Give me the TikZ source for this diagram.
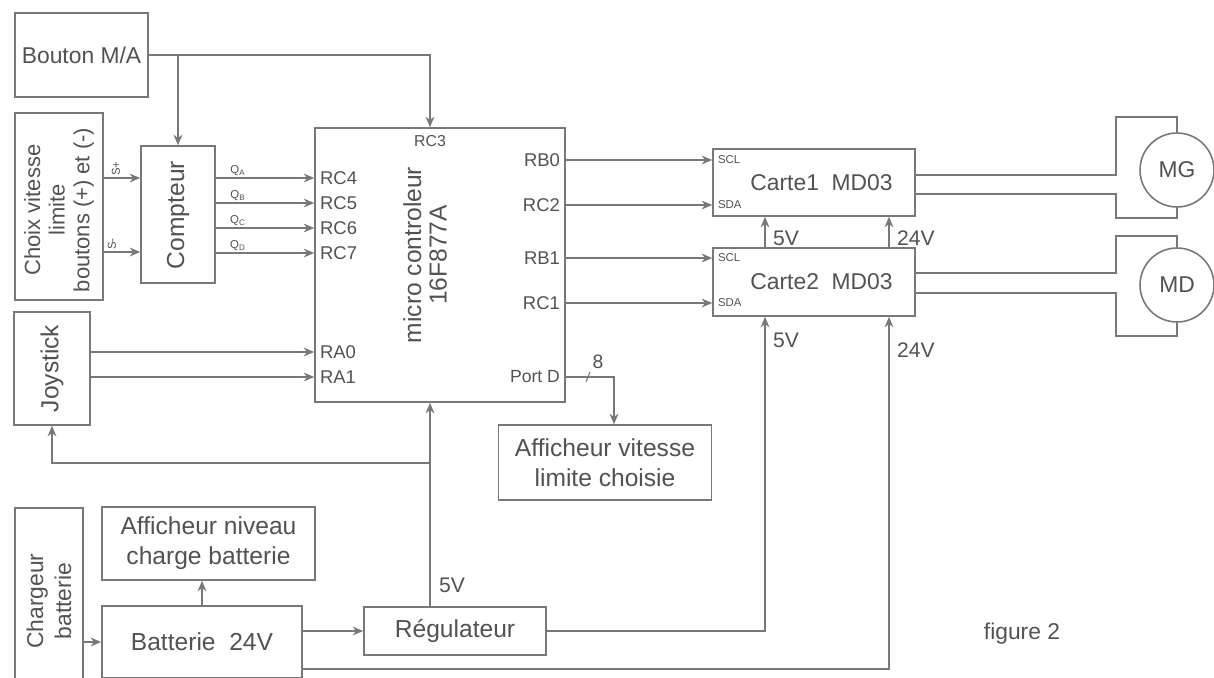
\documentclass[tikz,border=0pt]{standalone}
\usepackage{fontspec}
\setmainfont{Liberation Sans}
\usetikzlibrary{arrows.meta}

\definecolor{LineColor}{rgb}{0.47,0.47,0.47}
\definecolor{TextColor}{rgb}{0.32,0.32,0.32}
\tikzstyle{base}=[rectangle,
                  draw=LineColor,
                  line width=0.9pt,
                  text=TextColor,
                  align=center,
                  inner sep=0pt]
\tikzstyle{bigtext}=[font=\fontsize{14}{17}\selectfont]
\tikzstyle{midtext}=[font=\fontsize{13}{15}\selectfont]
\tikzstyle{turned}=[rotate=90, text=TextColor, align=center, inner sep=0pt]
\tikzstyle{pin}=[text=TextColor, inner sep=1pt, font=\fontsize{10.5}{12}\selectfont]
\tikzstyle{tinypin}=[text=TextColor, inner sep=1pt, font=\fontsize{6.5}{7}\selectfont]
\tikzstyle{volt}=[text=TextColor, inner sep=1pt, font=\fontsize{12}{14}\selectfont]
\tikzstyle{wire}=[draw=LineColor, line width=0.9pt]
\tikzstyle{arr}=[wire, -{Stealth[length=6pt,width=5pt]}]
\tikzstyle{motor}=[circle, draw=LineColor, line width=0.9pt, text=TextColor,
                   minimum size=1.48cm, inner sep=0pt, font=\fontsize{13}{15}\selectfont]

\begin{document}
\begin{tikzpicture}[x=0.02cm, y=-0.02cm]
    \useasboundingbox[fill=white] (0,0) rectangle (1214,677);

    % blocs
    \node at (81.5,  55.0) (bouton)    [base, midtext, minimum width=2.66cm, minimum height=1.68cm] {Bouton M/A};
    \node at (59.0, 206.5) (choix)     [base, minimum width=1.76cm, minimum height=3.74cm] {};
    \node at (178.0,214.5) (compteur)  [base, minimum width=1.48cm, minimum height=2.74cm] {};
    \node at (440.0,265.0) (micro)     [base, minimum width=5.00cm, minimum height=5.48cm] {};
    \node at (52.0, 368.5) (joystick)  [base, minimum width=1.52cm, minimum height=2.26cm] {};
    \node at (605.0,462.5) (affvit)    [base, bigtext, minimum width=4.26cm, minimum height=1.50cm] {Afficheur vitesse\\limite choisie};
    \node at (814.0,182.5) (carte1)    [base, midtext, minimum width=4.04cm, minimum height=1.34cm] {\hspace{0.3cm}Carte1~~MD03};
    \node at (814.0,282.0) (carte2)    [base, midtext, minimum width=4.04cm, minimum height=1.36cm] {\hspace{0.3cm}Carte2~~MD03};
    \node at (1177.0,170.0) (mg)       [motor] {MG};
    \node at (1177.0,285.0) (md)       [motor] {MD};
    \node at (49.0, 601.0) (chargeur)  [base, minimum width=1.36cm, minimum height=3.72cm] {};
    \node at (208.5,543.5) (affniv)    [base, bigtext, minimum width=4.26cm, minimum height=1.46cm] {Afficheur niveau\\charge batterie};
    \node at (202.0,642.0) (batterie)  [base, bigtext, minimum width=4.00cm, minimum height=1.44cm] {Batterie~~24V};
    \node at (455.0,631.0) (regul)     [base, bigtext, minimum width=3.64cm, minimum height=0.96cm] {R\'egulateur};
    \node at (1022.0,634.0) (figure)   [text=TextColor, midtext] {figure 2};

    % textes tournes
    \node at (59.0, 210.0) [turned, font=\fontsize{12.5}{14}\selectfont] {Choix vitesse\\limite\\boutons (+) et (-)};
    \node at (178.0,215.0) [turned, bigtext] {Compteur};
    \node at (425.0,255.0) [turned, font=\fontsize{14}{14.5}\selectfont] {micro controleur\\16F877A};
    \node at (52.0, 368.5) [turned, bigtext] {Joystick};
    \node at (49.0, 601.0) [turned, font=\fontsize{13}{16}\selectfont] {Chargeur\\batterie};

    % broches du micro
    \node at (430,141) (rc3) [pin, font=\fontsize{9}{10}\selectfont] {RC3};
    \node at (318,178) (rc4) [pin, anchor=west] {RC4};
    \node at (318,203) (rc5) [pin, anchor=west] {RC5};
    \node at (318,228) (rc6) [pin, anchor=west] {RC6};
    \node at (318,253) (rc7) [pin, anchor=west] {RC7};
    \node at (318,352) (ra0) [pin, anchor=west] {RA0};
    \node at (318,377) (ra1) [pin, anchor=west] {RA1};
    \node at (562,160) (rb0) [pin, anchor=east] {RB0};
    \node at (562,205) (rc2) [pin, anchor=east] {RC2};
    \node at (562,258) (rb1) [pin, anchor=east] {RB1};
    \node at (562,303) (rc1) [pin, anchor=east] {RC1};
    \node at (562,377) (portd) [pin, anchor=east, font=\fontsize{10}{12}\selectfont] {Port D};

    % broches des cartes
    \node at (716,160) (scl1) [tinypin, anchor=west] {SCL};
    \node at (716,205) (sda1) [tinypin, anchor=west] {SDA};
    \node at (716,258) (scl2) [tinypin, anchor=west] {SCL};
    \node at (716,303) (sda2) [tinypin, anchor=west] {SDA};

    % signaux
    \node at (122,178) (splus)  [tinypin, anchor=south west, rotate=90] {S+};
    \node at (118,252) (smoins) [tinypin, anchor=south west, rotate=90] {S-};
    \node at (238,178) (qa) [tinypin, anchor=south] {Q\textsubscript{A}};
    \node at (238,203) (qb) [tinypin, anchor=south] {Q\textsubscript{B}};
    \node at (238,228) (qc) [tinypin, anchor=south] {Q\textsubscript{C}};
    \node at (238,253) (qd) [tinypin, anchor=south] {Q\textsubscript{D}};
    \node at (598,362) (bus) [volt, font=\fontsize{11}{12}\selectfont] {8};

    % tensions
    \node at (437,585) (v5reg) [volt, anchor=west] {5V};
    \node at (771,238) (v5c1)  [volt, anchor=west] {5V};
    \node at (895,238) (v24c1) [volt, anchor=west] {24V};
    \node at (771,340) (v5c2)  [volt, anchor=west] {5V};
    \node at (895,350) (v24c2) [volt, anchor=west] {24V};

    \coordinate (vcc) at (430,463);

    % liaisons commande
    \draw[arr] (bouton.east) -| (vcc |- micro.north);
    \draw[arr] (compteur.north |- bouton.east) -- (compteur.north);
    \draw[arr] (choix.east |- splus.south west) -- (compteur.west |- splus.south west);
    \draw[arr] (choix.east |- smoins.south west) -- (compteur.west |- smoins.south west);
    \draw[arr] (compteur.east |- rc4) -- (micro.west |- rc4);
    \draw[arr] (compteur.east |- rc5) -- (micro.west |- rc5);
    \draw[arr] (compteur.east |- rc6) -- (micro.west |- rc6);
    \draw[arr] (compteur.east |- rc7) -- (micro.west |- rc7);
    \draw[arr] (joystick.east |- ra0) -- (micro.west |- ra0);
    \draw[arr] (joystick.east |- ra1) -- (micro.west |- ra1);
    \draw[arr] (micro.east |- rb0) -- (carte1.west |- scl1);
    \draw[arr] (micro.east |- rc2) -- (carte1.west |- sda1);
    \draw[arr] (micro.east |- rb1) -- (carte2.west |- scl2);
    \draw[arr] (micro.east |- rc1) -- (carte2.west |- sda2);
    \draw[arr] (micro.east |- portd) -| ([xshift=0.18cm]affvit.north);
    \draw[wire, line width=0.6pt] (586,382) -- (590,372);

    % moteurs
    \draw[wire] ([yshift=0.15cm]carte1.east)  -- ++(4cm,0) |- ([yshift=0.30cm]mg.north) -- (mg.north);
    \draw[wire] ([yshift=-0.23cm]carte1.east) -- ++(4cm,0) |- ([yshift=-0.20cm]mg.south) -- (mg.south);
    \draw[wire] ([yshift=0.18cm]carte2.east)  -- ++(4cm,0) |- ([yshift=0.22cm]md.north) -- (md.north);
    \draw[wire] ([yshift=-0.22cm]carte2.east) -- ++(4cm,0) |- ([yshift=-0.26cm]md.south) -- (md.south);

    % alimentations
    \draw[arr] (regul.north -| vcc) -- (micro.south -| vcc);
    \draw[arr] (vcc) -| (joystick.south);
    \draw[arr] (regul.east) -| ([xshift=-0.98cm]carte2.south);
    \draw[arr] ([xshift=-0.98cm]carte2.north) -- ([xshift=-0.98cm]carte1.south);
    \draw[arr] ([xshift=1.5cm]carte2.north) -- ([xshift=1.5cm]carte1.south);
    \draw[arr] ([yshift=-0.54cm]batterie.east) -| ([xshift=1.5cm]carte2.south);
    \draw[arr] (batterie.east |- regul.west) -- (regul.west);
    \draw[arr] (batterie.north) -- (batterie.north |- affniv.south);
    \draw[arr] (chargeur.east |- batterie.west) -- (batterie.west);
\end{tikzpicture}
\end{document}
